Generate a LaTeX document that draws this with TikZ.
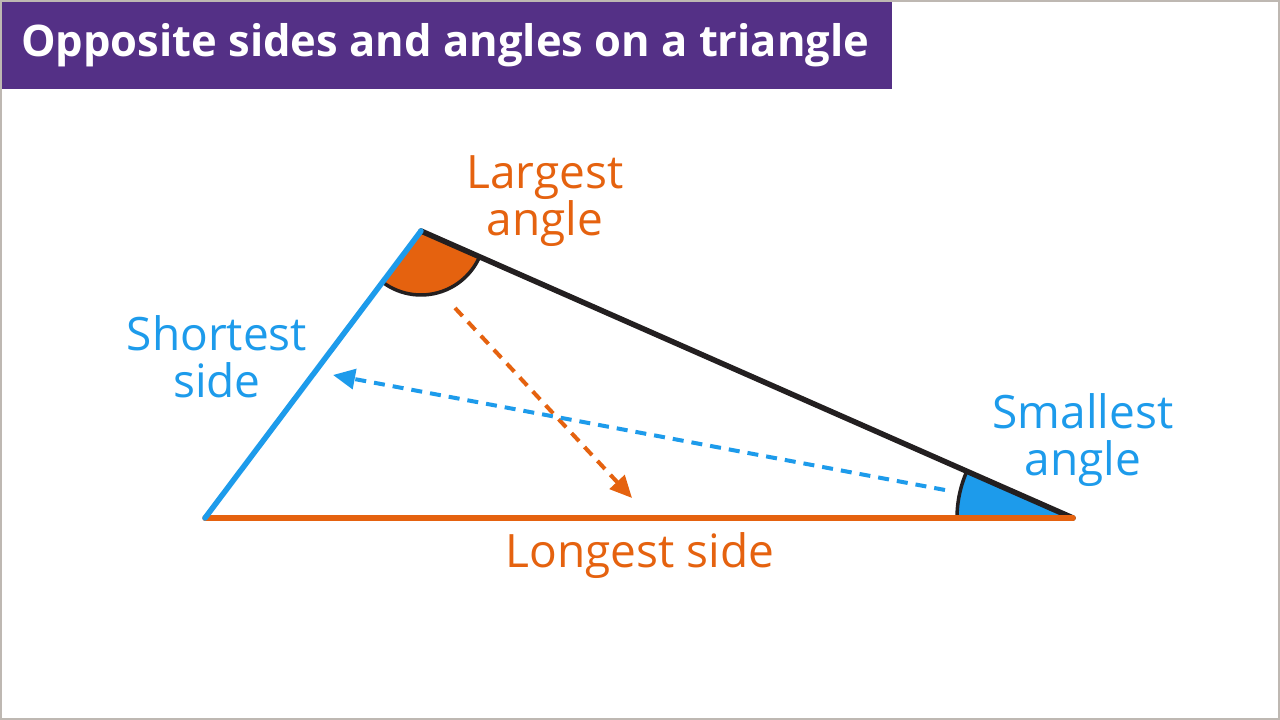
\documentclass[tikz,border=0pt]{standalone}
\usepackage{fontspec}
\setmainfont{Open Sans}
\usetikzlibrary{angles,arrows.meta}
\definecolor{titlepurple}{RGB}{84,48,134}
\definecolor{sideblue}{RGB}{29,155,235}
\definecolor{sideorange}{RGB}{229,98,15}
\definecolor{sideblack}{RGB}{35,31,32}
\definecolor{edgegrey}{RGB}{190,184,178}
\tikzset{
  side/.style={line width=5.5pt, line cap=round},
  hint/.style={line width=4pt, dash pattern=on 11pt off 8pt, -{Triangle[length=22pt,width=20pt]}},
  lbl/.style={font=\fontsize{46}{47}\selectfont, align=center, inner sep=0pt},
}

\begin{document}
\begin{tikzpicture}[x=1pt,y=1pt]
\useasboundingbox (0,0) rectangle (1280,720);
\fill[white] (0,0) rectangle (1280,720);
\draw[edgegrey, line width=2.5pt] (1,1) rectangle (1279,719);
% title bar
\fill[titlepurple] (2,631) rectangle (892,718);
\node (title) [font=\fontsize{43.5}{46}\bfseries, text=white, anchor=west, inner sep=0pt] at (21,675) {Opposite sides and angles on a triangle};

\coordinate (A) at (205,202);
\coordinate (B) at (421,489);
\coordinate (C) at (1073,202);

% angle marks
\pic [draw=sideblack, fill=sideorange, line width=3.5pt, angle radius=64pt] {angle = A--B--C};
\pic [draw=sideblack, fill=sideblue, line width=3.5pt, angle radius=116pt] {angle = B--C--A};

% sides
\draw[side, sideblack] (B) -- (C);
\draw[side, sideorange] (A) -- (C);
\draw[side, sideblue] (A) -- (B);

% arrows across
\coordinate (o1) at (455,412);
\coordinate (o2) at (632,222);
\coordinate (b1) at (945,230);
\coordinate (b2) at (333,345);
\draw[hint, sideorange] (o1) -- (o2);
\draw[hint, sideblue] (b1) -- (b2);

\node (largest) [lbl, text=sideorange] at (545,519) {Largest\\angle};
\node (shortest) [lbl, text=sideblue] at (217,363) {Shortest\\side};
\node (smallest) [lbl, text=sideblue] at (1083,280) {Smallest\\angle};
\node (longest) [lbl, text=sideorange] at (640,164) {Longest side};
\end{tikzpicture}
\end{document}
